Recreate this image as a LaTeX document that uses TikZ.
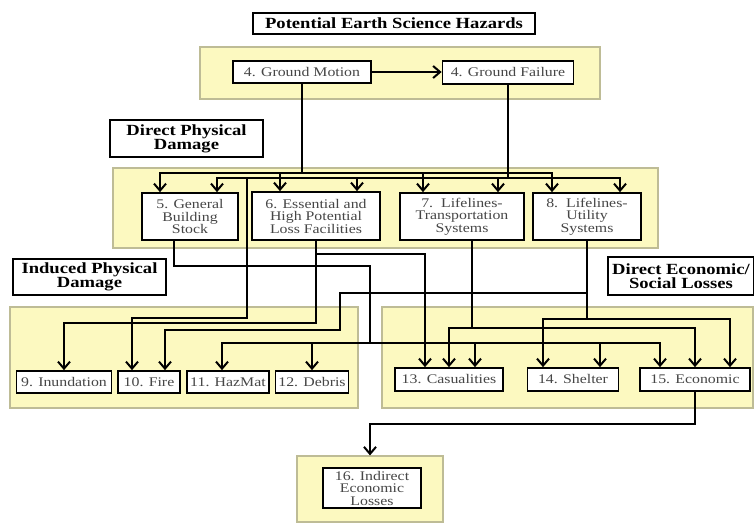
\documentclass[tikz,border=0pt]{standalone}
\usepackage{fontspec}
\setmainfont{Liberation Serif}[FakeStretch=1.2]
\usetikzlibrary{arrows.meta}
\definecolor{panelfill}{RGB}{252,249,192}
\definecolor{panelline}{RGB}{190,188,150}
\definecolor{itemtext}{RGB}{70,70,70}

\begin{document}
\begin{tikzpicture}[x=1pt, y=-1pt,
		panel/.style={draw=panelline, fill=panelfill, line width=1.2pt, inner sep=0pt},
		heading/.style={draw, fill=white, line width=1.5pt, align=center,
			font=\fontsize{15.5}{14}\selectfont\bfseries, inner sep=0pt},
		item/.style={draw, fill=white, line width=1.7pt, align=center,
			text=itemtext, font=\fontsize{13.2}{12.5}\selectfont, inner sep=0pt},
		wire/.style={draw, line width=2pt},
		link/.style={wire, -{Straight Barb[length=7pt, width=12pt]}}
	]
	\useasboundingbox (0,0) rectangle (754,523);

	\node[panel, minimum width=400, minimum height=52] (hzpanel) at (400,73) {};
	\node[panel, minimum width=545, minimum height=80] (dpdpanel) at (385.5,208) {};
	\node[panel, minimum width=348, minimum height=101] (ipdpanel) at (184,357.5) {};
	\node[panel, minimum width=371, minimum height=101] (deslpanel) at (567.5,357.5) {};
	\node[panel, minimum width=146, minimum height=66] (idlpanel) at (370,489) {};

	\node[heading, minimum width=282, minimum height=21] (hz) at (394,23.5) {Potential Earth Science Hazards};
	\node[heading, minimum width=153, minimum height=37] (dpd) at (186.5,138.5) {Direct Physical\\Damage};
	\node[heading, minimum width=153, minimum height=36] (ipd) at (89.5,277) {Induced Physical\\Damage};
	\node[heading, minimum width=146, minimum height=38] (desl) at (681,276) {Direct Economic/\\Social Losses};

	\node[item, minimum width=138, minimum height=22] (gm) at (302,72) {4. Ground Motion};
	\node[item, minimum width=131, minimum height=23] (gf) at (508,72.5) {4. Ground Failure};
	\node[item, minimum width=96, minimum height=47] (b5) at (190,216.5) {5. General\\Building\\Stock};
	\node[item, minimum width=128, minimum height=48] (b6) at (316,216) {6. Essential and\\High Potential\\Loss Facilities};
	\node[item, minimum width=124, minimum height=47] (b7) at (462,216.5) {7.\ \ Lifelines-\\Transportation\\Systems};
	\node[item, minimum width=108, minimum height=47] (b8) at (587,216.5) {8.\ \ Lifelines-\\Utility\\Systems};
	\node[item, minimum width=95, minimum height=22] (b9) at (64,382) {9. Inundation};
	\node[item, minimum width=62, minimum height=22] (b10) at (149,382) {10. Fire};
	\node[item, minimum width=82, minimum height=22] (b11) at (228,382) {11. HazMat};
	\node[item, minimum width=73, minimum height=22] (b12) at (312,382) {12. Debris};
	\node[item, minimum width=108, minimum height=23] (b13) at (449,379.5) {13. Casualities};
	\node[item, minimum width=91, minimum height=23] (b14) at (573,379.5) {14. Shelter};
	\node[item, minimum width=110, minimum height=23] (b15) at (695,379.5) {15. Economic};
	\node[item, minimum width=98, minimum height=40] (b16) at (372,488) {16. Indirect\\Economic\\Losses};

	\coordinate (gmbus) at (302,173);
	\coordinate (gfbus) at (508,178);
	\coordinate (firea) at (247,318);
	\coordinate (stockturn) at (370,266);
	\coordinate (stockbus) at (370,343);
	\coordinate (essinund) at (316,323);
	\coordinate (esscas) at (316,254);
	\coordinate (transbus) at (472,328);
	\coordinate (utilbus) at (587,319);
	\coordinate (utilfire) at (587,293);
	\coordinate (firebend) at (340,330);
	\coordinate (econturn) at (695,424);

	\draw[link] (gm.east) -- (gm.east -| gf.west);
	\draw[wire] (gm) -- (gmbus);
	\draw[wire] (gf) -- (gfbus);
	\foreach \n/\dx in {b5/-30, b6/-36, b7/-39, b8/-35}
		\draw[link] (gmbus) -| ([xshift=\dx]\n.north);
	\foreach \n/\dx in {b5/27, b6/41, b7/36, b8/33}
		\draw[link] (gfbus) -| ([xshift=\dx]\n.north);

	\draw[link] (gfbus) -| (firea) -| ([xshift=-17]b10.north);

	\draw[wire] ([xshift=-16]b5.south) |- (stockturn) -- (stockbus);
	\foreach \n/\dx in {b11/-6, b12/0, b13/26, b14/27, b15/-35}
		\draw[link] (stockbus) -| ([xshift=\dx]\n.north);

	\draw[link] (b6) -- (essinund) -| (b9.north);
	\draw[link] (esscas) -| ([xshift=-24]b13.north);

	\draw[wire] ([xshift=10]b7.south) -- (transbus);
	\draw[link] (transbus) -| (b13.north);
	\draw[link] (transbus) -| (b15.north);

	\draw[wire] (b8) -- (utilbus);
	\draw[link] (utilbus) -| ([xshift=-30]b14.north);
	\draw[link] (utilbus) -| ([xshift=35]b15.north);
	\draw[link] (utilfire) -| (firebend) -| ([xshift=16]b10.north);

	\draw[link] (b15) -- (econturn) -| (idlpanel.north);
\end{tikzpicture}
\end{document}
